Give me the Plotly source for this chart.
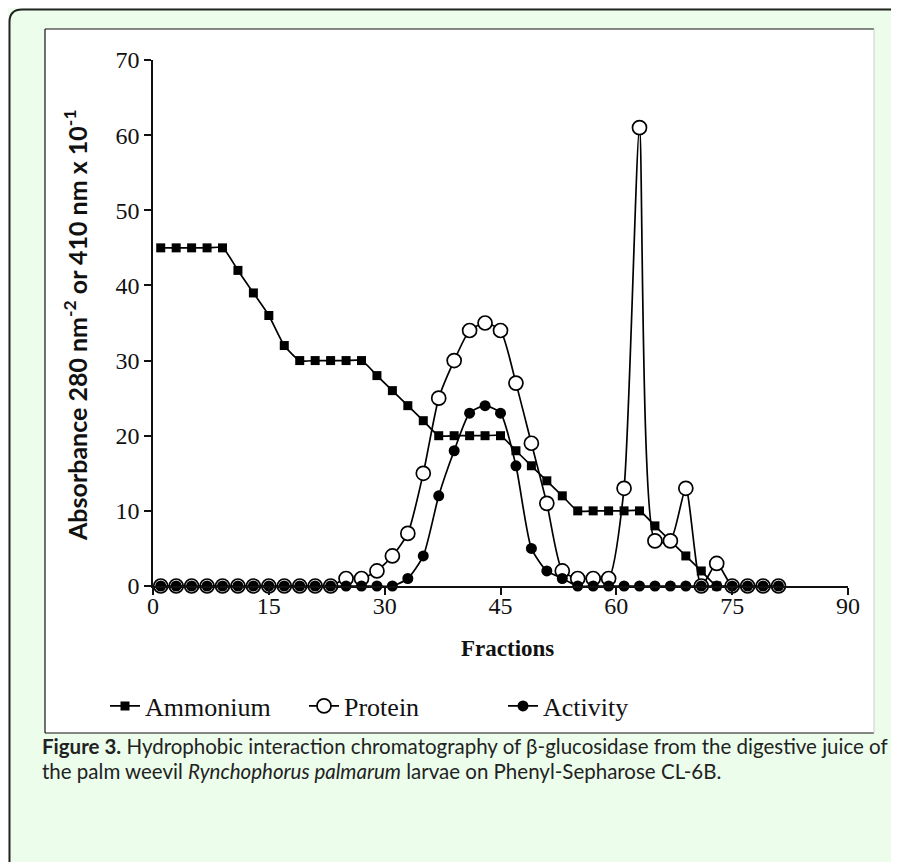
import plotly.graph_objects as go

fractions = list(range(1, 82, 2))
ammonium = [45, 45, 45, 45, 45, 42, 39, 36, 32, 30, 30, 30, 30, 30, 28, 26, 24, 22,
            20, 20, 20, 20, 20, 18, 16, 14, 12, 10, 10, 10, 10, 10, 8, 6, 4, 2,
            0, 0, 0, 0, 0]
protein = [0] * 12 + [1, 1, 2, 4, 7, 15, 25, 30, 34, 35, 34, 27, 19, 11, 2, 1, 1, 1,
                      13, 61, 6, 6, 13, 0, 3] + [0] * 4
activity = [0] * 16 + [1, 4, 12, 18, 23, 24, 23, 16, 5, 2, 1] + [0] * 14

x_ticks = [0, 15, 30, 45, 60, 75, 90]
y_ticks = [0, 10, 20, 30, 40, 50, 60, 70]

OFF = 8  # page body margin
W, H = 899 - OFF, 862 - OFF
# plot area in page (screenshot) pixels
L, R, T, B = 153, 848, 60, 586


def px(x):
    return (x - L) / (R - L)


def py(y):
    return (B - y) / (B - T)


SERIF = "Liberation Serif, Times New Roman, serif"
SANS = "Lato, sans-serif"
fig = go.Figure()

fig.add_trace(go.Scatter(
    x=fractions, y=ammonium, name="Ammonium", mode="lines+markers",
    line=dict(color="black", width=1.7, shape="spline", smoothing=0.6),
    marker=dict(symbol="square", size=9, color="black"), cliponaxis=False))
fig.add_trace(go.Scatter(
    x=fractions, y=protein, name="Protein", mode="lines+markers",
    line=dict(color="black", width=1.7, shape="spline", smoothing=0.6),
    marker=dict(symbol="circle", size=14, color="white",
                line=dict(color="black", width=1.7)), cliponaxis=False))
fig.add_trace(go.Scatter(
    x=fractions, y=activity, name="Activity", mode="lines+markers",
    line=dict(color="black", width=1.7, shape="spline", smoothing=0.6),
    marker=dict(symbol="circle", size=11, color="black"), cliponaxis=False))

shapes = [
    dict(type="rect", xref="paper", yref="paper", x0=px(45), x1=px(874), y0=py(733), y1=py(29),
         fillcolor="white", line=dict(width=0), layer="below"),
    dict(type="line", xref="paper", yref="paper", x0=px(45), x1=px(874), y0=py(29), y1=py(29),
         line=dict(color="#111", width=1.2), layer="below"),
    dict(type="line", xref="paper", yref="paper", x0=px(45), x1=px(45), y0=py(29), y1=py(733),
         line=dict(color="#111", width=1.2), layer="below"),
    dict(type="line", xref="paper", yref="paper", x0=px(45), x1=px(874), y0=py(733), y1=py(733),
         line=dict(color="#111", width=1.2), layer="below"),
    dict(type="line", xref="paper", yref="paper", x0=px(874), x1=px(874), y0=py(29), y1=py(733),
         line=dict(color="#ccc", width=1), layer="below"),
    dict(type="path", xref="paper", yref="paper",
         path=f"M {px(9.5)},{py(880)} L {px(9.5)},{py(22)} Q {px(9.5)},{py(9.5)} {px(22)},{py(9.5)} L {px(920)},{py(9.5)}",
         line=dict(color="#222", width=2), layer="below"),
]

annotations = [
    dict(text="<b>Absorbance 280 nm<sup>-2</sup> or 410 nm x 10<sup>-1</sup></b>",
         xref="paper", yref="paper", x=px(76), y=py(325), textangle=-90,
         showarrow=False, font=dict(family=SANS, size=25, color="#111"),
         xanchor="center", yanchor="middle"),
    dict(text="<b>Fractions</b>", xref="paper", yref="paper", x=px(507), y=py(648),
         showarrow=False, font=dict(family=SERIF, size=23, color="#111"),
         xanchor="center", yanchor="middle"),
    dict(text="<b>Figure 3.</b> Hydrophobic interaction chromatography of β-glucosidase from the digestive juice of",
         xref="paper", yref="paper", x=px(40), y=py(746), showarrow=False,
         font=dict(family=SANS, size=20.5, color="#222"),
         xanchor="left", yanchor="middle"),
    dict(text="the palm weevil <i>Rynchophorus palmarum</i> larvae on Phenyl-Sepharose CL-6B.",
         xref="paper", yref="paper", x=px(40), y=py(771), showarrow=False,
         font=dict(family=SANS, size=20.5, color="#222"),
         xanchor="left", yanchor="middle"),
]

fig.update_layout(
    width=W, height=H,
    margin=dict(l=L - OFF, r=W - (R - OFF), t=T - OFF, b=H - (B - OFF), pad=0),
    paper_bgcolor="#ECFDEC", plot_bgcolor="rgba(0,0,0,0)",
    shapes=shapes, annotations=annotations,
    showlegend=True,
    legend=dict(orientation="h", x=px(105), y=py(706), xanchor="left", yanchor="middle",
                font=dict(family=SERIF, size=26, color="#111"),
                bgcolor="rgba(0,0,0,0)", entrywidth=154, entrywidthmode="pixels",
                itemsizing="trace"),
    xaxis=dict(range=[0, 90], tickvals=x_ticks, ticktext=[str(v) for v in x_ticks],
               showgrid=False, zeroline=False, showline=True, linecolor="#111", linewidth=1.5,
               ticks="outside", ticklen=7, tickcolor="#111", tickwidth=1.5, ticklabelstandoff=-10,
               tickfont=dict(family=SERIF, size=24, color="#111"), anchor="y"),
    yaxis=dict(range=[0, 70], tickvals=y_ticks, ticktext=[str(v) for v in y_ticks],
               showgrid=False, zeroline=False, showline=True, linecolor="#111", linewidth=1.5,
               ticks="outside", ticklen=7, tickcolor="#111", tickwidth=1.5, ticklabelstandoff=0,
               tickfont=dict(family=SERIF, size=24, color="#111")),
)

fig.write_html("out.html")
